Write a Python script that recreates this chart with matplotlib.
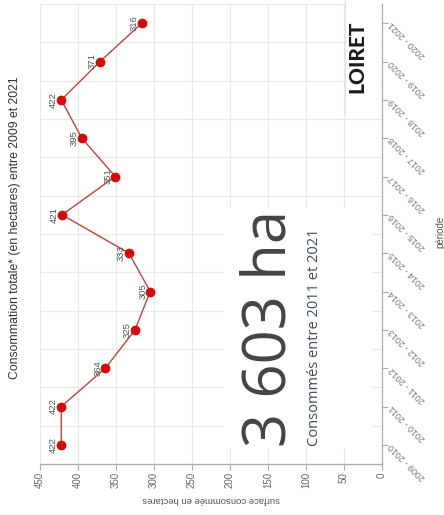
import matplotlib
matplotlib.use("Agg")
import matplotlib.pyplot as plt
from matplotlib.patches import Rectangle
from matplotlib.lines import Line2D

# chart is shown rotated a quarter turn: periods run bottom -> top, surface runs right -> left
PERIODS = ["2009 - 2010", "2010 - 2011", "2011 - 2012", "2012 - 2013", "2013 - 2014",
           "2014 - 2015", "2015 - 2016", "2016 - 2017", "2017 - 2018", "2018 - 2019",
           "2019 - 2020", "2020 - 2021"]
SURFACE = [422, 422, 364, 325, 305, 333, 421, 351, 395, 422, 371, 316]
VALUE_TICKS = [0, 50, 100, 150, 200, 250, 300, 350, 400, 450]

TITLE = "Consommation totale* (en hectares) entre 2009 et 2021"
TOTAL = "3 603 ha"
SUBTITLE = "Consommés entre 2011 et 2021"
DEPT = "LOIRET"

W, H = 444, 515
fig = plt.figure(figsize=(W / 100, H / 100), dpi=100)
fig.patch.set_facecolor("white")

def fx(px):
    return px / W

def fy(py):
    return 1 - py / H

ax = fig.add_axes([fx(40), fy(464), fx(382) - fx(40), fy(4) - fy(464)])
pos = list(range(len(PERIODS)))

ax.plot(SURFACE, pos, color="#b5473a", linewidth=1.0, zorder=3)
ax.plot(SURFACE, pos, "o", color="#d60a0a", markersize=6, zorder=4)
for v, p in zip(SURFACE, pos):
    ax.annotate(str(v), (v, p), xytext=(-5, 0), textcoords="offset pixels",
                rotation=90, rotation_mode="anchor", ha="center", va="baseline",
                fontsize=6.8, color="#555555", family="Liberation Sans", zorder=5)

ax.set_xlim(450, 0)
ax.set_ylim(-0.49, 11.28)
ax.set_xticks(VALUE_TICKS)
ax.set_xticklabels([str(t) for t in VALUE_TICKS], rotation=90, fontsize=7,
                   color="#666666", family="Liberation Sans")
ax.yaxis.tick_right()
ax.set_yticks(pos)
ax.set_yticklabels(PERIODS, fontsize=6.5, color="#777777", family="Liberation Sans")
for lab in ax.get_yticklabels():
    lab.set_rotation(135)
    lab.set_rotation_mode("anchor")
    lab.set_ha("right")
    lab.set_va("center")
ax.set_yticks([p + 0.5 for p in range(-1, len(PERIODS))], minor=True)
ax.tick_params(axis="y", which="minor", length=0)
ax.tick_params(axis="both", which="major", length=4, color="#aaaaaa", pad=2)

ax.grid(axis="x", color="#e8e8e8", linewidth=0.8)
ax.grid(axis="y", which="minor", color="#e8e8e8", linewidth=0.8)
ax.set_axisbelow(True)
for side in ("top", "left"):
    ax.spines[side].set_visible(False)
for side in ("bottom", "right"):
    ax.spines[side].set_color("#aaaaaa")
    ax.spines[side].set_linewidth(0.9)

ax.set_xlabel("surface consommée en hectares", rotation=180, fontsize=6.8,
              color="#555555", family="Liberation Sans", labelpad=5)

# white panels laid over the grid
fig.patches.append(Rectangle((fx(224), fy(448)), fx(372) - fx(224), fy(208) - fy(448),
                             transform=fig.transFigure, facecolor="white",
                             edgecolor="none", zorder=1))
fig.patches.append(Rectangle((fx(346), fy(113)), fx(381) - fx(346), fy(0) - fy(113),
                             transform=fig.transFigure, facecolor="white",
                             edgecolor="none", zorder=1))
fig.lines.append(Line2D([fx(345), fx(345)], [fy(0), fy(113)], transform=fig.transFigure,
                        color="#e3e3e3", linewidth=0.8, zorder=1))

fig.text(fx(15), fy(228), TITLE, rotation=90, ha="center", va="center",
         fontsize=8.8, color="#333333", family="Liberation Sans")
fig.text(fx(440), fy(232), "période", rotation=90, ha="center", va="center",
         fontsize=7, color="#555555", family="Liberation Sans")

fig.text(fx(286), fy(328), TOTAL, rotation=90, rotation_mode="anchor",
         ha="center", va="baseline", fontsize=43, color="#444444",
         family="Open Sans", zorder=3)
fig.text(fx(318), fy(337), SUBTITLE, rotation=90, rotation_mode="anchor",
         ha="center", va="baseline", fontsize=10.5, color="#3d4b5e",
         family="Open Sans", zorder=3)
fig.text(fx(363), fy(57), DEPT, rotation=90, rotation_mode="anchor",
         ha="center", va="baseline", fontsize=15, color="#1a1a1a",
         family="Lato", fontweight="black", zorder=3)

fig.savefig("out.png", dpi=100)
